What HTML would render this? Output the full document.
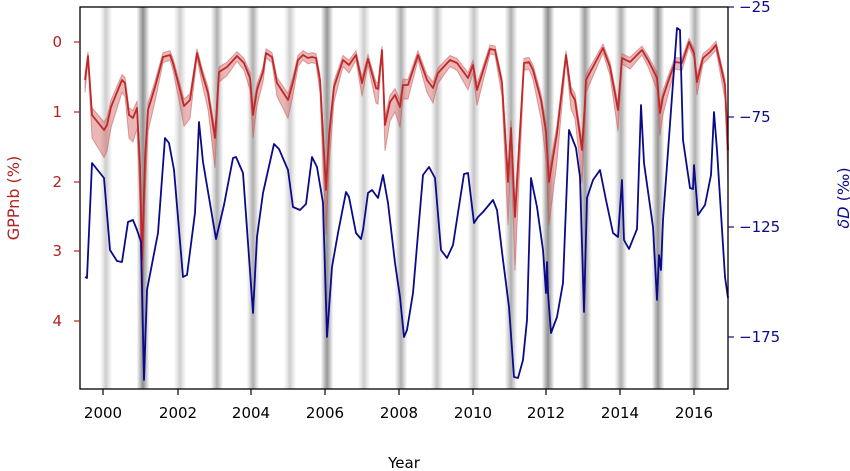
<!DOCTYPE html>
<html><head><meta charset="utf-8"><style>
html,body{margin:0;padding:0;background:#fff;}
svg{display:block;font-family:"DejaVu Sans","Liberation Sans",sans-serif;}
</style></head><body>
<svg id="s" width="850" height="471" viewBox="0 0 850 471" xmlns="http://www.w3.org/2000/svg">
<g id="bars"></g>
<polygon id="band" fill="#d0605f" fill-opacity="0.45" stroke="#c85050" stroke-opacity="0.5" stroke-width="1"/>
<polyline id="red" fill="none" stroke="#c0282a" stroke-width="1.8" stroke-linejoin="round"/>
<polyline id="blue" fill="none" stroke="#0a0a8a" stroke-width="1.8" stroke-linejoin="round"/>
<rect x="80" y="7" width="648" height="382" fill="none" stroke="#000" stroke-width="1.3"/>
<g id="ticks" stroke-width="1.2"></g>
<g font-size="15" fill="#b22222" text-anchor="end">
<text x="62" y="47">0</text><text x="62" y="117">1</text><text x="62" y="187">2</text><text x="62" y="256">3</text><text x="62" y="326">4</text>
</g>
<g font-size="15" fill="#0a0a8a" text-anchor="start">
<text x="739" y="12">−25</text><text x="739" y="122">−75</text><text x="739" y="232">−125</text><text x="739" y="342">−175</text>
</g>
<g font-size="15" fill="#000" text-anchor="middle">
<text x="103" y="418">2000</text><text x="178" y="418">2002</text><text x="251" y="418">2004</text><text x="325" y="418">2006</text><text x="399" y="418">2008</text><text x="473" y="418">2010</text><text x="546" y="418">2012</text><text x="620" y="418">2014</text><text x="694" y="418">2016</text>
<text x="404" y="468">Year</text>
</g>
<text x="0" y="0" font-size="16" fill="#b22222" text-anchor="middle" transform="translate(19,198) rotate(-90)">GPPnb (%)</text>
<text x="0" y="0" font-size="16" fill="#0a0a8a" text-anchor="middle" transform="translate(849,198) rotate(-90)"><tspan font-style="italic">δD</tspan> (‰)</text>
</svg>
<script>
var ns="http://www.w3.org/2000/svg";
var bars=[[106,.2],[143,.55],[180,.2],[217,.35],[253,.35],[290,.2],[327,.5],[364,.2],[401,.35],[437,.25],[474,.25],[511,.35],[548,.55],[585,.45],[621,.35],[658,.5],[695,.35]];
var bg=document.getElementById('bars');
bars.forEach(function(b){
 [[11,b[1]*0.35],[7,b[1]*0.5],[3,b[1]*0.6]].forEach(function(w){
 var r=document.createElementNS(ns,'rect');r.setAttribute('x',b[0]-w[0]/2);r.setAttribute('y',7);r.setAttribute('width',w[0]);r.setAttribute('height',382);r.setAttribute('fill','#555');r.setAttribute('fill-opacity',w[1]);bg.appendChild(r);});
});
var tg=document.getElementById('ticks');
function ln(x1,y1,x2,y2,c){var l=document.createElementNS(ns,'line');l.setAttribute('x1',x1);l.setAttribute('y1',y1);l.setAttribute('x2',x2);l.setAttribute('y2',y2);l.setAttribute('stroke',c);tg.appendChild(l);}
[103,178,251,325,399,473,546,620,694].forEach(function(x){ln(x,389,x,395,'#000');});
[42,112,182,251,321].forEach(function(y){ln(74,y,80,y,'#b22222');});
[7,117,227,337].forEach(function(y){ln(728,y,734,y,'#0a0a8a');});
var blue=[[85,277],[87,278],[92,163],[104,178],[110,250],[117,261],[122,262],[128,222],[133,220],[137,230],[141,242],[144,380],[147,290],[158,233],[165,138],[169,143],[174,170],[183,277],[187,275],[195,213],[199,122],[203,162],[216,239],[224,205],[233,158],[236,157],[243,173],[253,313],[257,237],[263,193],[274,144],[279,149],[288,170],[293,207],[300,210],[306,204],[312,157],[317,167],[323,203],[327,337],[332,267],[338,233],[346,192],[349,197],[356,233],[361,239],[363,230],[368,193],[372,190],[378,198],[383,175],[388,203],[395,263],[400,297],[404,337],[407,330],[413,293],[423,175],[429,167],[435,178],[441,250],[447,258],[453,245],[464,174],[468,173],[474,223],[478,217],[483,212],[493,200],[497,210],[503,260],[509,307],[514,377],[518,378],[523,360],[527,320],[531,178],[537,207],[543,250],[546,293],[547,262],[548,293],[551,333],[557,317],[563,283],[569,130],[576,148],[580,177],[584,312],[587,198],[593,180],[600,170],[606,200],[613,233],[618,237],[622,180],[624,240],[629,249],[637,229],[641,105],[644,163],[653,227],[657,300],[659,255],[661,270],[663,220],[677,28],[680,30],[683,140],[690,188],[693,189],[694,165],[698,215],[705,205],[711,175],[714,112],[717,150],[725,277],[728,298]];
var red=[[85,80],[88,56],[92,115],[104,130],[107,125],[111,107],[122,80],[125,83],[129,115],[133,118],[137,108],[140,167],[142,260],[145,160],[148,110],[155,87],[163,57],[170,55],[173,63],[180,90],[184,106],[190,100],[197,53],[202,73],[208,93],[215,138],[219,72],[227,67],[237,56],[244,63],[250,78],[253,115],[257,90],[263,72],[266,53],[272,57],[277,83],[288,100],[293,82],[298,60],[303,55],[308,58],[312,57],[316,58],[320,80],[326,190],[329,137],[334,87],[343,60],[349,65],[356,55],[362,83],[368,59],[376,88],[378,89],[382,50],[385,125],[390,102],[395,95],[400,107],[403,85],[408,85],[418,55],[427,80],[433,88],[438,73],[450,60],[457,63],[468,78],[473,65],[477,90],[490,49],[495,50],[502,83],[508,182],[511,128],[515,217],[524,63],[529,62],[533,70],[541,100],[546,132],[549,182],[557,133],[566,55],[571,93],[575,100],[582,150],[585,102],[586,80],[603,48],[610,67],[618,110],[622,58],[630,62],[642,50],[648,60],[657,78],[660,113],[663,97],[668,82],[675,62],[682,63],[689,42],[694,53],[697,82],[703,58],[710,52],[716,45],[725,85],[728,150]];
function pts(a){return a.map(function(p){return p[0]+','+p[1];}).join(' ');}
document.getElementById('blue').setAttribute('points',pts(blue));
document.getElementById('red').setAttribute('points',pts(red));
var up=red.map(function(p){return [p[0],Math.max(8,p[1]-4-0.05*(p[1]-50))];});
var lo=red.map(function(p){return [p[0],p[1]+5+0.3*Math.max(0,p[1]-55)];}).reverse();
document.getElementById('band').setAttribute('points',pts(up.concat(lo)));
</script>
</body></html>
